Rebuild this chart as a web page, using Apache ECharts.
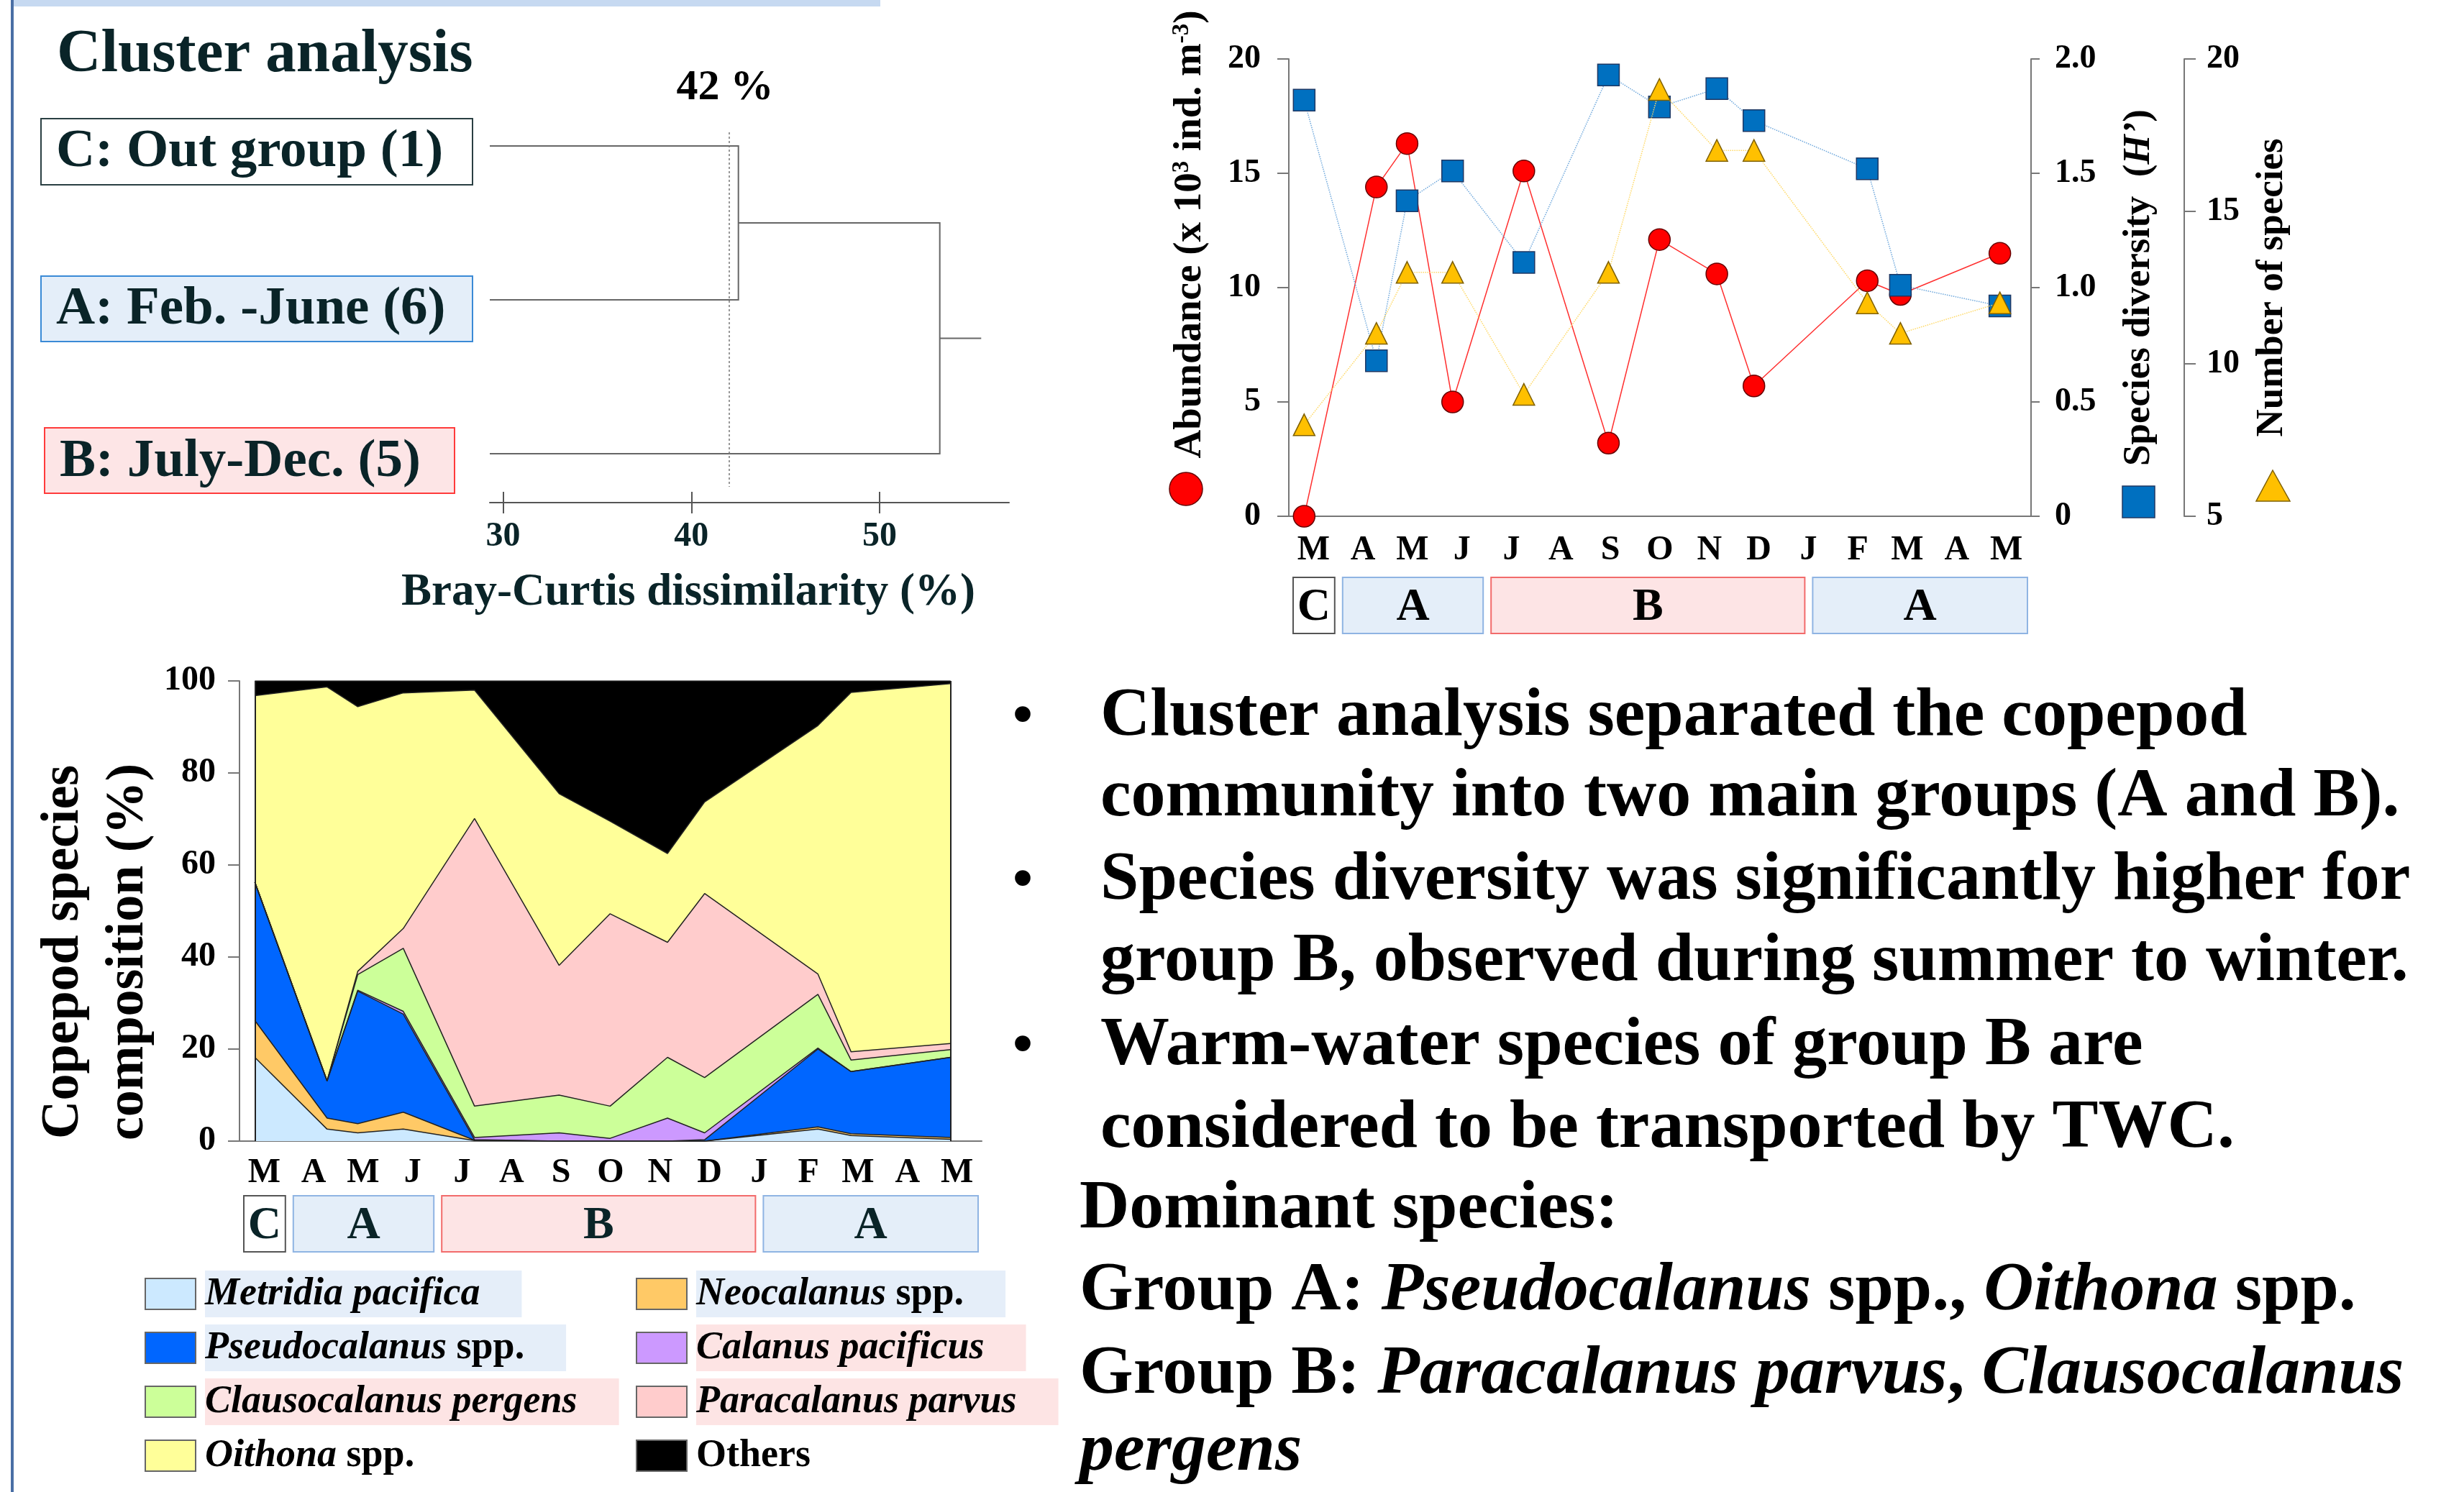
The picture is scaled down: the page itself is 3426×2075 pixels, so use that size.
<!DOCTYPE html>
<html><head><meta charset="utf-8">
<script src="https://cdn.jsdelivr.net/npm/echarts@6/dist/echarts.min.js"></script>
<style>html,body{margin:0;padding:0;background:#fff}#c{width:3426px;height:2075px}</style>
</head><body><div id="c"></div>
<script>
// ---------------- DATA ----------------
const months = ['M','A','M','J','J','A','S','O','N','D','J','F','M','A','M'];
// sampling dates expressed in month-slot units (0 = start of first March)
const samplePos = [0.31, 1.77, 2.39, 3.31, 4.75, 6.46, 7.49, 8.65, 9.40, 11.69, 12.36, 14.37];
const abundance = [0, 14.4, 16.3, 5.0, 15.1, 3.2, 12.1, 10.6, 5.7, 10.3, 9.7, 11.5];
const diversity = [1.82, 0.68, 1.38, 1.51, 1.11, 1.93, 1.79, 1.87, 1.73, 1.52, 1.01, 0.92];
const nSpecies = [8, 11, 13, 13, 9, 13, 19, 17, 17, 12, 11, 12];
const abundanceTicks = [0, 20, 5];
const diversityTicks = [0, 2, 0.5];
const speciesTicks = [5, 20, 5];
// cluster groups along the time axis: [label, start slot, end slot]
const groupSpans = [['C', 0, 1], ['A', 1, 4], ['B', 4, 10.5], ['A', 10.5, 15]];

// species composition (%)
const metridia      = [18.2, 2.6, 1.8, 2.6, 0.1, 0, 0, 0, 0, 2.6, 1.2, 0.4];
const neocalanus    = [8.0, 2.4, 2.0, 3.7, 0.1, 0, 0, 0, 0, 0.5, 0.4, 0.4];
const pseudocalanus = [30.1, 8.1, 28.8, 21.3, 0.1, 0, 0, 0, 0.3, 16.9, 13.5, 17.4];
const calanus       = [0, 0, 0.2, 0.6, 0.5, 1.8, 0.6, 5.0, 1.5, 0.2, 0, 0];
const clausocalanus = [0, 0, 3.4, 13.7, 6.8, 8.2, 7.0, 13.2, 12.0, 11.7, 2.5, 1.7];
const paracalanus   = [0, 0, 0.7, 4.3, 62.5, 28.2, 41.8, 25.0, 40.0, 4.4, 1.8, 1.3];
const oithona       = [40.5, 85.6, 57.5, 51.2, 27.9, 37.3, 20.1, 19.3, 19.9, 54.0, 78.1, 78.2];
const others        = [3.2, 1.3, 5.6, 2.6, 2.0, 24.5, 30.5, 37.5, 26.3, 9.7, 2.5, 0.6];
const speciesNames = ['Metridia pacifica','Neocalanus spp.','Pseudocalanus spp.','Calanus pacificus',
  'Clausocalanus pergens','Paracalanus parvus','Oithona spp.','Others'];
const speciesValues = [metridia, neocalanus, pseudocalanus, calanus, clausocalanus, paracalanus, oithona, others];
const pctTicks = [0, 100, 20];

// dendrogram (Bray-Curtis dissimilarity, %)
const leafLabels = ['C: Out group (1)', 'A: Feb. -June (6)', 'B: July-Dec. (5)'];
const merges = [[0, 1, 42.5], [3, 2, 53.2]];   // [node a, node b, dissimilarity]
const dissimTicks = [30, 40, 50];
const cutoff = 42;

// right-hand text
const bulletLines = [
  ['Cluster analysis separated the copepod', 'community into two main groups (A and B).'],
  ['Species diversity was significantly higher for', 'group B, observed during summer to winter.'],
  ['Warm-water species of group B are', 'considered to be transported by TWC.']
];

// ---------------- STYLE / LAYOUT ----------------
const SERIF = '"Liberation Serif", "Times New Roman", serif';
const F = (s, w, st) => (st || '') + ' ' + (w || 'bold') + ' ' + s + 'px ' + SERIF;
const TEAL = '#0a2428';
const speciesColors = ['#cce9ff', '#ffc966', '#0066ff', '#cc99ff', '#ccff99', '#ffcccc', '#ffff99', '#000000'];
const groupStyle = {
  C: { fill: '#ffffff', stroke: '#555555' },
  A: { fill: '#e4eef9', stroke: '#8fb4e3' },
  B: { fill: '#fde4e5', stroke: '#f26b6b' }
};
const dStart = 29.29, dEnd = 56.88, dRootTail = 55.4, dYMin = 0.911, dYMax = 3.318, dCutBottom = 3.215;

// build dendrogram polylines through the axis scales
const nodeX = [dStart, dStart, dStart], nodeY = [1, 2, 3];
const dendroSegs = [];
merges.forEach(([a, b, h]) => {
  dendroSegs.push({ coords: [[nodeX[a], nodeY[a]], [h, nodeY[a]], [h, nodeY[b]], [nodeX[b], nodeY[b]]] });
  nodeX.push(h); nodeY.push((nodeY[a] + nodeY[b]) / 2);
});
const rootI = nodeX.length - 1;
dendroSegs.push({ coords: [[nodeX[rootI], nodeY[rootI]], [dRootTail, nodeY[rootI]]] });

const zip = (xs, ys) => xs.map((x, i) => [x, ys[i]]);

function axisCommon(extra) {
  return Object.assign({
    axisLine: { onZero: false, lineStyle: { color: '#777', width: 2 } },
    axisTick: { lineStyle: { color: '#777', width: 2 } },
    splitLine: { show: false }
  }, extra);
}
function hiddenValueAxis(gridIndex, min, max) {
  return { type: 'value', gridIndex, min, max, show: false, splitLine: { show: false }, axisLine: { onZero: false } };
}

function bandRender(params, api) {
  const g = groupSpans[params.dataIndex];
  const st = groupStyle[g[0]];
  const p0 = api.coord([api.value(0), 1]);
  const p1 = api.coord([api.value(1), 0]);
  const x = p0[0] + 6, w = p1[0] - p0[0] - 11;
  return {
    type: 'group',
    children: [
      { type: 'rect', shape: { x, y: p0[1], width: w, height: p1[1] - p0[1] },
        style: { fill: st.fill, stroke: st.stroke, lineWidth: 2 } },
      { type: 'text', style: { text: g[0], x: x + w / 2, y: (p0[1] + p1[1]) / 2 + 3, align: 'center',
        verticalAlign: 'middle', font: F(64), fill: params.seriesIndex > 5 ? TEAL : '#000' } }
    ]
  };
}
const bandData = groupSpans.map(g => [g[1], g[2]]);

// legend formatting
const legendBg = { 'Metridia pacifica': 'blue', 'Pseudocalanus spp.': 'blue', 'Neocalanus spp.': 'blue',
  'Clausocalanus pergens': 'pink', 'Calanus pacificus': 'pink', 'Paracalanus parvus': 'pink',
  'Oithona spp.': 'none', 'Others': 'none' };
const bgCol = { blue: '#e5eef9', pink: '#fde4e4', none: 'transparent' };
const legendRich = {};
['blue', 'pink', 'none'].forEach(bg => {
  [['it', 'italic'], ['up', 'normal']].forEach(([k, fs]) => {
    [0, 1].forEach(last => {
      legendRich[k + bg + last] = { fontFamily: SERIF, fontWeight: 'bold', fontStyle: fs, fontSize: 54,
        lineHeight: 54, color: '#000', backgroundColor: bgCol[bg], padding: [6, last ? 58 : 0, 5, 0] };
    });
  });
});
function legendFmt(name) {
  const bg = legendBg[name];
  if (name === 'Others') return '{upnone1|Others}';
  const m = name.match(/^(.*?)( spp\.)$/);
  if (m) return '{it' + bg + '0|' + m[1] + '}{up' + bg + '1|' + m[2] + '}';
  return '{it' + bg + '1|' + name + '}';
}
const legendBase = { orient: 'vertical', itemWidth: 70, itemHeight: 43, itemGap: 10, icon: 'rect',
  selectedMode: false, itemStyle: { borderColor: '#666', borderWidth: 2 }, formatter: legendFmt,
  textStyle: { rich: legendRich, padding: [0, 0, 0, 8] } };

// graphic helpers
function T(x, y, text, font, extra) {
  return { type: 'text', x, y, style: Object.assign({ text, font, fill: '#000', verticalAlign: 'middle' }, extra || {}) };
}
const graphics = [
  { type: 'rect', shape: { x: 15, y: 0, width: 4, height: 2075 }, style: { fill: '#4a6fa5' } },
  { type: 'rect', shape: { x: 19, y: 0, width: 1205, height: 9 }, style: { fill: '#c6d9f1' } },
  T(79, 77, 'Cluster analysis', F(85), { fill: TEAL }),
  T(1008, 122, cutoff + ' %', F(60), { align: 'center' }),
  // dendrogram leaf boxes
  { type: 'rect', shape: { x: 57, y: 165, width: 600, height: 92 }, style: { fill: '#fff', stroke: '#2a3f42', lineWidth: 2 } },
  { type: 'rect', shape: { x: 57, y: 384, width: 600, height: 91 }, style: { fill: '#e4eef9', stroke: '#3a8ad6', lineWidth: 2 } },
  { type: 'rect', shape: { x: 62, y: 595, width: 570, height: 91 }, style: { fill: '#fde5e6', stroke: '#ff3b3b', lineWidth: 2 } },
  T(78, 212, leafLabels[0], F(75), { fill: TEAL }),
  T(78, 431, leafLabels[1], F(75), { fill: TEAL }),
  T(83, 643, leafLabels[2], F(75), { fill: TEAL }),
  // axis-name symbols of the top right chart
  { type: 'circle', shape: { cx: 1649, cy: 680, r: 23 }, style: { fill: '#ff0000', stroke: '#660000', lineWidth: 1.5 } },
  { type: 'rect', shape: { x: 2951, y: 676, width: 45, height: 44 }, style: { fill: '#0070c0', stroke: '#1f3864', lineWidth: 1.5 } },
  { type: 'polygon', shape: { points: [[3160, 654], [3184, 697], [3137, 697]] }, style: { fill: '#ffc000', stroke: '#7f6000', lineWidth: 1.5 } }
];
// right text block
const baselines = [1029, 1141, 1257, 1370, 1487, 1602, 1714, 1828, 1944, 2051];
const tf = F(96);
let li = 0;
bulletLines.forEach(pair => {
  graphics.push(T(1422, baselines[li] - 30, '\u2022', F(80), { align: 'center' }));
  pair.forEach(line => { graphics.push(T(1530, baselines[li] - 32, line, tf)); li++; });
});
const richR = { b: { font: tf, fill: '#000' }, i: { font: F(96, 'bold', 'italic'), fill: '#000' } };
graphics.push(T(1501, baselines[6] - 32, 'Dominant species:', tf));
graphics.push(T(1501, baselines[7] - 32, '{b|Group A: }{i|Pseudocalanus}{b| spp., }{i|Oithona}{b| spp.}', tf, { rich: richR }));
graphics.push(T(1501, baselines[8] - 32, '{b|Group B: }{i|Paracalanus parvus}{b|, }{i|Clausocalanus}', tf, { rich: richR }));
graphics.push(T(1501, baselines[9] - 32, '{i|pergens}', tf, { rich: richR }));

const lab = (size, color) => ({ fontFamily: SERIF, fontWeight: 'bold', fontSize: size, color: color || '#000' });

const option = {
  animation: false,
  backgroundColor: '#fff',
  textStyle: { fontFamily: SERIF },
  grid: [
    { left: 681, top: 184, width: 722, height: 515 },     // 0 dendrogram
    { left: 1792, top: 82, width: 1032, height: 636 },    // 1 abundance chart
    { left: 1792, top: 803, width: 1032, height: 78 },    // 2 group band (top)
    { left: 333, top: 947, width: 1032, height: 640 },    // 3 composition chart
    { left: 333, top: 1663, width: 1032, height: 78 }     // 4 group band (bottom)
  ],
  xAxis: [
    axisCommon({ type: 'value', gridIndex: 0, position: 'bottom', min: dStart, max: dEnd,
      axisLine: { onZero: false, lineStyle: { color: '#555', width: 2 } },
      axisTick: { customValues: dissimTicks, length: 15, lineStyle: { color: '#555', width: 2 } },
      axisLabel: Object.assign({ customValues: dissimTicks, margin: 24 }, lab(48, TEAL)),
      name: 'Bray-Curtis dissimilarity (%)', nameLocation: 'middle', nameGap: 94,
      nameTextStyle: Object.assign({ padding: [0, 170, 0, 0] }, lab(63, TEAL)) }),
    { type: 'value', gridIndex: 0, position: 'bottom', min: dStart, max: dEnd, axisLine: { show: false, onZero: false },
      axisTick: { show: true, inside: true, customValues: dissimTicks, length: 15, lineStyle: { color: '#555', width: 2 } },
      axisLabel: { show: false }, splitLine: { show: false } },
    axisCommon({ type: 'category', gridIndex: 1, position: 'bottom', data: months, boundaryGap: true,
      axisTick: { interval: 0, length: 16, lineStyle: { color: '#777', width: 2 } },
      axisLabel: Object.assign({ interval: 0, margin: 24 }, lab(48)) }),
    hiddenValueAxis(1, 0, 15),
    hiddenValueAxis(2, 0, 15),
    axisCommon({ type: 'category', gridIndex: 3, position: 'bottom', data: months, boundaryGap: true,
      axisTick: { interval: 0, length: 16, lineStyle: { color: '#777', width: 2 } },
      axisLabel: Object.assign({ interval: 0, margin: 21 }, lab(48)) }),
    hiddenValueAxis(3, 0, 15),
    hiddenValueAxis(4, 0, 15)
  ],
  yAxis: [
    { type: 'value', gridIndex: 0, min: dYMin, max: dYMax, inverse: true, show: false, splitLine: { show: false }, axisLine: { onZero: false } },
    axisCommon({ type: 'value', gridIndex: 1, position: 'left', min: abundanceTicks[0], max: abundanceTicks[1], interval: abundanceTicks[2],
      axisTick: { length: 16, lineStyle: { color: '#777', width: 2 } },
      axisLabel: Object.assign({ margin: 39 }, lab(46)),
      name: 'Abundance (x 10{sup|3} ind. m{sup|-3})', nameLocation: 'middle', nameRotate: 90, nameGap: 110,
      nameTextStyle: Object.assign({ padding: [0, 0, 0, 148], rich: { sup: { fontFamily: SERIF, fontWeight: 'bold', fontSize: 33, verticalAlign: 'top', padding: [0, 0, 14, 0] } } }, lab(55)) }),
    axisCommon({ type: 'value', gridIndex: 1, position: 'right', min: diversityTicks[0], max: diversityTicks[1], interval: diversityTicks[2],
      axisTick: { length: 12, lineStyle: { color: '#777', width: 2 } },
      axisLabel: Object.assign({ margin: 33, formatter: v => v === 0 ? '0' : v.toFixed(1) }, lab(46)),
      name: 'Species diversity  ({i|H\u2019})', nameLocation: 'middle', nameRotate: 90, nameGap: 124,
      nameTextStyle: Object.assign({ rich: { i: { fontFamily: SERIF, fontWeight: 'bold', fontStyle: 'italic', fontSize: 53 } } }, lab(53)) }),
    axisCommon({ type: 'value', gridIndex: 1, position: 'right', offset: 213, min: speciesTicks[0], max: speciesTicks[1], interval: speciesTicks[2],
      axisTick: { length: 16, lineStyle: { color: '#777', width: 2 } },
      axisLabel: Object.assign({ margin: 31 }, lab(46)),
      name: 'Number of species', nameLocation: 'middle', nameRotate: 90, nameGap: 96,
      nameTextStyle: lab(53) }),
    { type: 'value', gridIndex: 2, min: 0, max: 1, show: false, splitLine: { show: false }, axisLine: { onZero: false } },
    axisCommon({ type: 'value', gridIndex: 3, min: pctTicks[0], max: pctTicks[1], interval: pctTicks[2],
      axisTick: { length: 16, lineStyle: { color: '#777', width: 2 } },
      axisLabel: Object.assign({ margin: 33 }, lab(48)),
      name: 'Copepod species\ncomposition (%)', nameLocation: 'middle', nameRotate: 90, nameGap: 90,
      nameTextStyle: Object.assign({ lineHeight: 90, padding: [0, 114, 0, 0] }, lab(74)) }),
    { type: 'value', gridIndex: 4, min: 0, max: 1, show: false, splitLine: { show: false }, axisLine: { onZero: false } }
  ],
  legend: [
    Object.assign({ data: [speciesNames[0], speciesNames[2], speciesNames[4], speciesNames[6]], left: 196, top: 1762 }, legendBase),
    Object.assign({ data: [speciesNames[1], speciesNames[3], speciesNames[5], speciesNames[7]], left: 879, top: 1762 }, legendBase)
  ],
  series: [
    { type: 'lines', coordinateSystem: 'cartesian2d', xAxisIndex: 0, yAxisIndex: 0, polyline: true, silent: true,
      data: dendroSegs, lineStyle: { color: '#666', width: 2, opacity: 1 } },
    { type: 'lines', coordinateSystem: 'cartesian2d', xAxisIndex: 0, yAxisIndex: 0, silent: true,
      data: [{ coords: [[cutoff, dYMin], [cutoff, dCutBottom]] }], lineStyle: { color: '#777', width: 1.5, type: [3, 3], opacity: 1 } },
    { name: 'Abundance', type: 'line', xAxisIndex: 3, yAxisIndex: 1, data: zip(samplePos, abundance),
      symbol: 'circle', symbolSize: 30, lineStyle: { color: '#ff3030', width: 1.5 },
      itemStyle: { color: '#ff0000', borderColor: '#660000', borderWidth: 1.5 }, z: 3 },
    { name: 'Species diversity', type: 'line', xAxisIndex: 3, yAxisIndex: 2, data: zip(samplePos, diversity),
      symbol: 'rect', symbolSize: 30, lineStyle: { color: '#6fa8dc', width: 1.5, type: 'dotted' },
      itemStyle: { color: '#0070c0', borderColor: '#1f3864', borderWidth: 1.5 }, z: 4 },
    { name: 'Number of species', type: 'line', xAxisIndex: 3, yAxisIndex: 3, data: zip(samplePos, nSpecies),
      symbol: 'triangle', symbolSize: 30, lineStyle: { color: '#ffd966', width: 1.5, type: 'dotted' },
      itemStyle: { color: '#ffc000', borderColor: '#7f6000', borderWidth: 1.5 }, z: 5 },
    { type: 'custom', xAxisIndex: 4, yAxisIndex: 4, renderItem: bandRender, data: bandData, silent: true },
    // stacked composition: value first so that the stack is computed on the percentage dimension
    ...speciesNames.map((nm, k) => ({
      name: nm, type: 'line', stack: 'comp', xAxisIndex: 6, yAxisIndex: 5,
      data: speciesValues[k].map((v, i) => [v, samplePos[i]]), encode: { x: 1, y: 0 },
      symbol: 'none', color: speciesColors[k], itemStyle: { color: speciesColors[k] },
      areaStyle: { color: speciesColors[k], opacity: 1 }, lineStyle: { color: '#222', width: 1.5 },
      markLine: k === 0 ? { silent: true, symbol: 'none', label: { show: false },
        lineStyle: { color: '#222', width: 2, type: 'solid' },
        data: [{ xAxis: samplePos[0] }, { xAxis: samplePos[samplePos.length - 1] }] } : undefined
    })),
    { type: 'custom', xAxisIndex: 7, yAxisIndex: 6, renderItem: bandRender, data: bandData, silent: true }
  ],
  graphic: graphics
};
const chart = echarts.init(document.getElementById('c'));
chart.setOption(option);
</script></body></html>
